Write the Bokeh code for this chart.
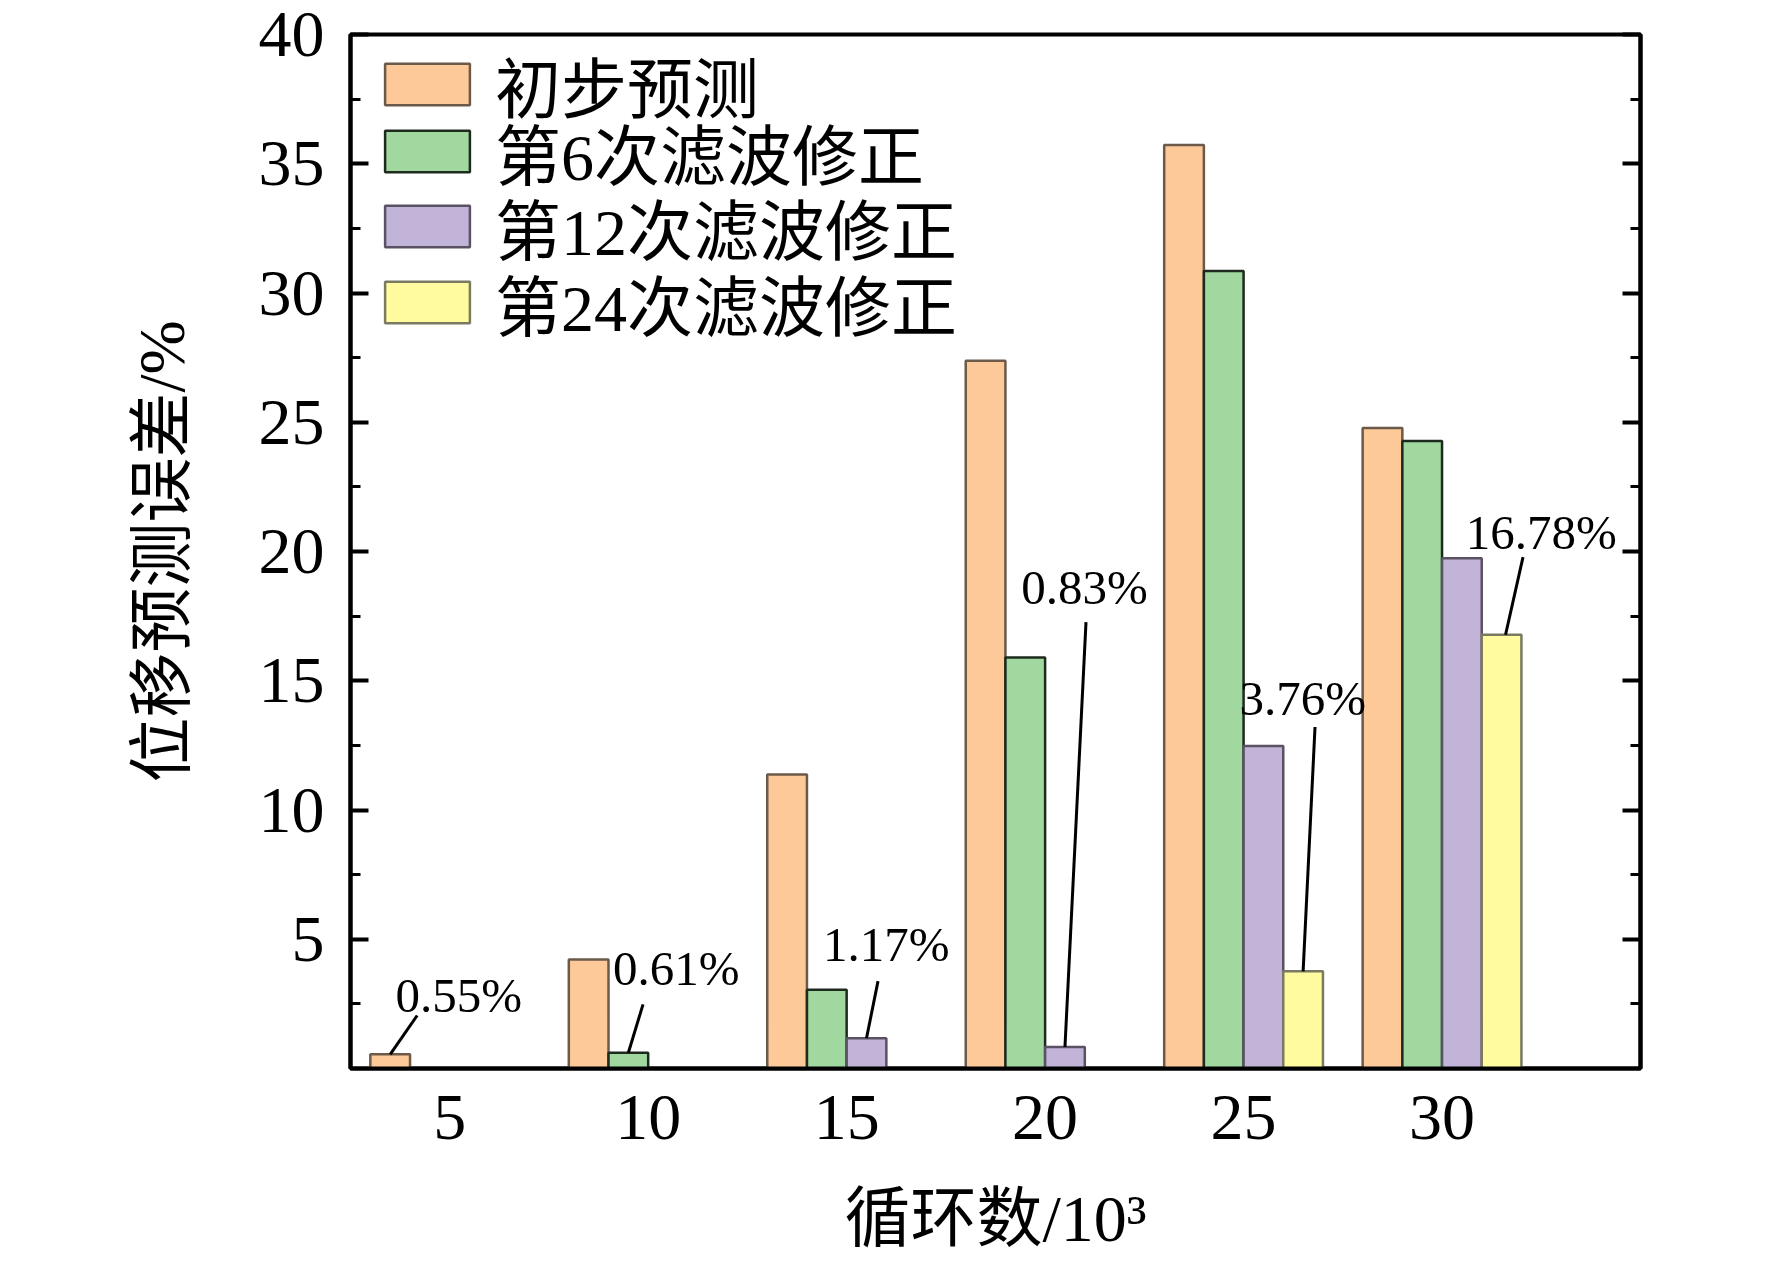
from bokeh.plotting import figure
from bokeh.models import (ColumnDataSource, FixedTicker, LinearAxis, Range1d,
                          Legend, LegendItem)
from bokeh.core.properties import value
from bokeh.embed import file_html
from bokeh.resources import INLINE

# ---------------- data ----------------
cycles = [5, 10, 15, 20, 25, 30]                       # 循环数/10^3
series_names = ["初步预测", "第6次滤波修正", "第12次滤波修正", "第24次滤波修正"]
initial = [0.55, 4.22, 11.37, 27.38, 35.73, 24.78]
filt6 = [0.0, 0.61, 3.05, 15.90, 30.85, 24.27]
filt12 = [0.0, 0.0, 1.17, 0.83, 12.48, 19.74]
filt24 = [0.0, 0.0, 0.0, 0.0, 3.76, 16.78]
fills = ["#FDC998", "#A0D8A0", "#C2B3D8", "#FFFB9E"]
edges = ["#6B5A4A", "#1E2A1E", "#5A5262", "#7A7A62"]

# annotated bars: (series index, cycle index) and label placement (data units)
ann_series = [0, 1, 2, 2, 3, 3]
ann_cycle = [0, 1, 2, 3, 4, 5]
ann_text_x = [5.23, 10.71, 16.0, 20.99, 26.49, 32.5]
ann_text_y = [2.84, 3.85, 4.8, 18.6, 14.33, 20.75]
ann_line_x0 = [3.5, 9.5, 15.5, 20.5, 26.5, 31.6]
ann_line_x1 = [4.18, 9.87, 15.79, 21.03, 26.8, 32.04]
ann_line_y1 = [2.05, 2.48, 3.38, 17.27, 13.21, 19.78]

y_major = [5, 10, 15, 20, 25, 30, 35, 40]
y_minor = [2.5, 7.5, 12.5, 17.5, 22.5, 27.5, 32.5, 37.5]

x_title = "循环数/10³"
y_title = "位移预测误差/%"

FONT = "Liberation Serif, Noto Sans CJK SC"
SERIF = "Liberation Serif"

# ---------------- figure ----------------
W, H = 1756, 1258
FRAME_L, FRAME_T, FRAME_R, FRAME_B = 350, 34, 1640, 1068
p = figure(width=W, height=H, output_backend="svg", toolbar_location=None,
           x_range=Range1d(2.5, 35), y_range=Range1d(0, 40),
           min_border_left=FRAME_L, min_border_right=W - FRAME_R,
           min_border_top=FRAME_T, min_border_bottom=H - FRAME_B)
p.background_fill_color = "white"
p.border_fill_color = "white"
p.grid.visible = False
p.outline_line_color = "black"
p.outline_line_width = 4

all_series = [initial, filt6, filt12, filt24]
offsets = [-1.5, -0.5, 0.5, 1.5]
renderers = []
for vals, off, fc, lc in zip(all_series, offsets, fills, edges):
    xs = [c + off for c in cycles]
    src = ColumnDataSource(dict(x=xs, top=vals))
    r = p.vbar(x="x", top="top", bottom=0, width=1.0, source=src,
               fill_color=fc, line_color=lc, line_width=2.5)
    renderers.append(r)

# annotations
ann_vals = [all_series[s][c] for s, c in zip(ann_series, ann_cycle)]
ann_labels = ["%.2f%%" % v for v in ann_vals]
seg_src = ColumnDataSource(dict(x0=ann_line_x0, y0=ann_vals,
                                x1=ann_line_x1, y1=ann_line_y1))
p.segment(x0="x0", y0="y0", x1="x1", y1="y1", source=seg_src,
          line_color="black", line_width=3)
txt_src = ColumnDataSource(dict(x=ann_text_x, y=ann_text_y, t=ann_labels))
p.text(x="x", y="y", text="t", source=txt_src, text_font=value(SERIF),
       text_font_size="49px", text_align="center",
       text_baseline="alphabetic", text_color="black")

# axes
ya = p.yaxis[0]
ya.ticker = FixedTicker(ticks=y_major, minor_ticks=y_minor)
ya.axis_label = y_title
xa = p.xaxis[0]
xa.ticker = FixedTicker(ticks=cycles)
xa.axis_label = x_title

for ax in (xa, ya):
    ax.axis_line_width = 4
    ax.axis_line_color = "black"
    ax.major_label_text_font = SERIF
    ax.major_label_text_font_size = "66px"
    ax.major_label_text_color = "black"
    ax.axis_label_text_font = FONT
    ax.axis_label_text_font_style = "normal"
    ax.axis_label_text_color = "black"

ya.major_label_text_line_height = 0.8
ya.axis_label_text_font_size = "65px"
ya.major_tick_in = 18
ya.major_tick_out = 0
ya.minor_tick_in = 10
ya.minor_tick_out = 0
ya.major_tick_line_width = 4
ya.minor_tick_line_width = 3
ya.major_label_standoff = 26
ya.axis_label_standoff = 58

xa.major_label_text_line_height = 0.7
xa.axis_label_text_font_size = "66px"
xa.axis_label_text_line_height = 0.45
xa.major_tick_in = 0
xa.major_tick_out = 0
xa.minor_tick_in = 0
xa.minor_tick_out = 0
xa.major_tick_line_color = None
xa.minor_tick_line_color = None
xa.major_label_standoff = 27
xa.axis_label_standoff = 40

ra = LinearAxis(ticker=FixedTicker(ticks=y_major, minor_ticks=y_minor))
ra.major_label_overrides = {t: "" for t in y_major}
ra.major_tick_in = 18
ra.major_tick_out = 0
ra.minor_tick_in = 10
ra.minor_tick_out = 0
ra.major_tick_line_width = 4
ra.minor_tick_line_width = 3
ra.axis_line_width = 4
p.add_layout(ra, "right")

# legend: one row per entry so that the row pitch matches the reference
row_centers = [84, 151, 226, 302]     # page px of each legend row
ROW_H = 96
for name, r, cy in zip(series_names, renderers, row_centers):
    lg = Legend(items=[LegendItem(label=name, renderers=[r])],
                location=(24, FRAME_B - cy - ROW_H / 2), orientation="vertical",
                glyph_width=106, glyph_height=52, label_height=40,
                label_standoff=15, spacing=0, padding=0, margin=0,
                label_text_font=FONT, label_text_font_size="66px",
                label_text_color="black", label_text_baseline="middle",
                border_line_color=None, background_fill_alpha=0)
    p.add_layout(lg, "center")

open("out.html", "w").write(file_html(p, INLINE))
